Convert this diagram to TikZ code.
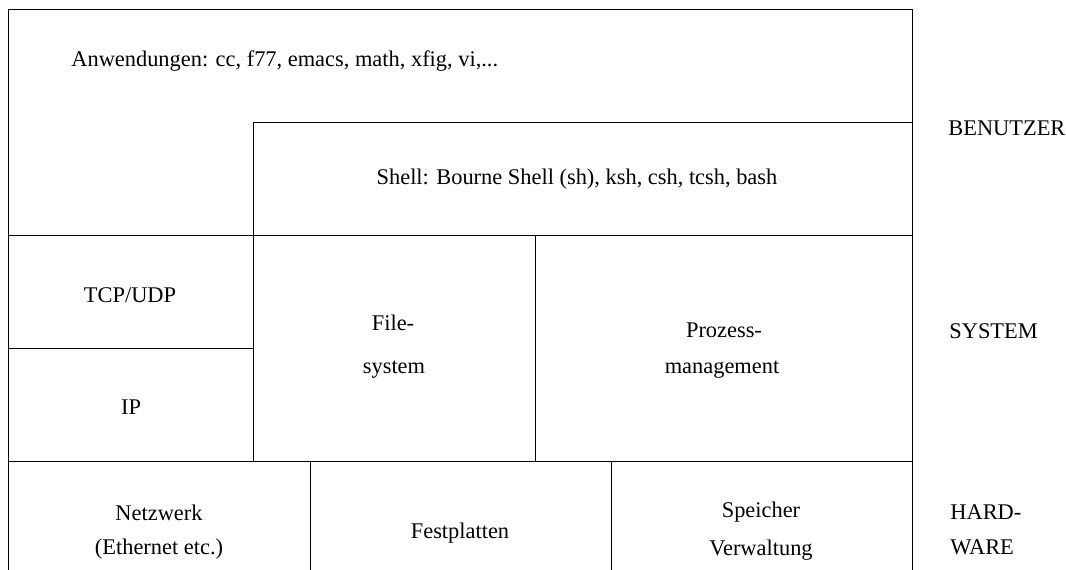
\documentclass[tikz,border=0pt]{standalone}
\usepackage{fontspec}
\setmainfont{Liberation Serif}

\begin{document}
\begin{tikzpicture}[x=0.75pt, y=-0.75pt, line width=0.6pt,
  every node/.style={font=\fontsize{16.8}{20}\selectfont, inner sep=0pt, anchor=base}]
            \useasboundingbox (0,0) rectangle (1066,570);

            % Rahmen und Schichten
            \draw (8,570) -- (8,9) -- (912,9) -- (912,570);
            \draw (253,461) -- (253,122) -- (912,122);
            \draw (8,235) -- (912,235);
            \draw (8,348) -- (253,348);
            \draw (8,461) -- (912,461);
            \draw (535,235) -- (535,461);
            \draw (310,461) -- (310,570);
            \draw (611,461) -- (611,570);

            % Benutzer
            \node[anchor=base west] (anw) at (71,67) {Anwendungen: cc, f77, emacs, math, xfig, vi,...};
            \node (shell) at (577,185) {Shell: Bourne Shell (sh), ksh, csh, tcsh, bash};

            % System
            \node (tcp) at (130,302) {TCP/UDP};
            \node (ip) at (131,414) {IP};
            \node (fs1) at (393,330) {File-};
            \node (fs2) at (394,373) {system};
            \node (proz1) at (724,337) {Prozess-};
            \node (proz2) at (722,373) {management};

            % Hardware
            \node (netz1) at (159,520) {Netzwerk};
            \node (netz2) at (159,554) {(Ethernet etc.)};
            \node (platten) at (460,538) {Festplatten};
            \node (speicher1) at (761,517) {Speicher};
            \node (speicher2) at (761,555) {Verwaltung};

            \node[anchor=base west] (benutzer) at (948,136) {BENUTZER};
            \node[anchor=base west] (system) at (949,338) {SYSTEM};
            \node[anchor=base west] (hard1) at (950,519) {HARD-};
            \node[anchor=base west] (hard2) at (950,554) {WARE};
        \end{tikzpicture}
\end{document}
